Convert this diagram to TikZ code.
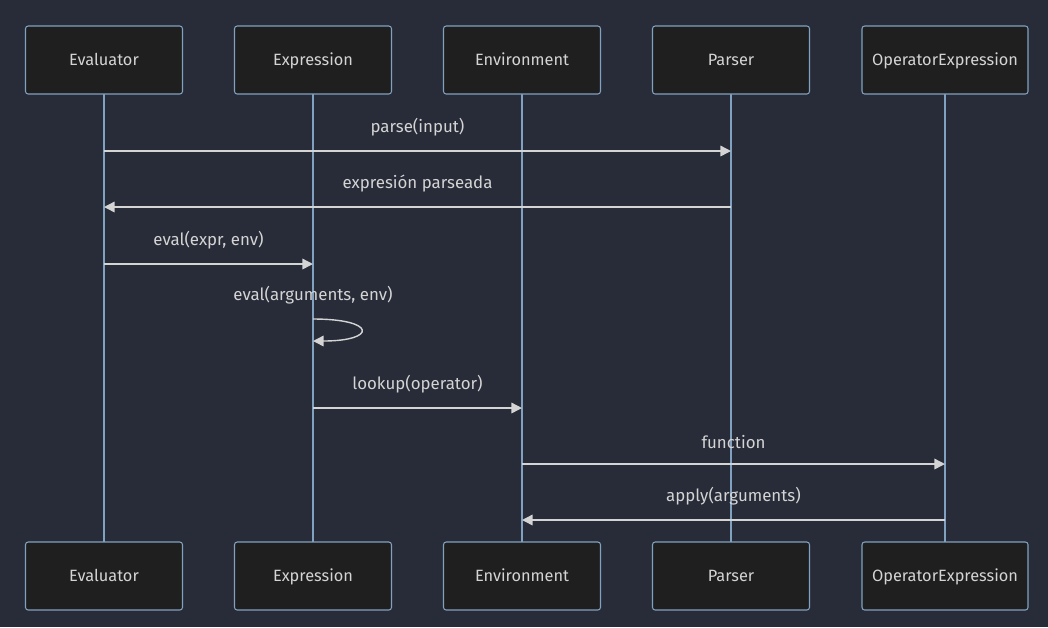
\documentclass[tikz,border=0pt]{standalone}
\usepackage{fontspec}
\setmainfont{Fira Sans}
\usetikzlibrary{arrows.meta}
\definecolor{bgcol}{HTML}{282C38}
\definecolor{boxfill}{HTML}{1F1F1F}
\definecolor{boxline}{HTML}{81A1C1}
\definecolor{msgcol}{HTML}{D4D4D4}
\tikzset{
  actor/.style={draw=boxline, fill=boxfill, line width=0.6pt, rounded corners=1.5pt,
    minimum width=3.14cm, minimum height=1.36cm, text=msgcol,
    text height=1.6ex, text depth=0.45ex,
    font=\fontsize{9.3}{11}\selectfont},
  lifeline/.style={draw=boxline, line width=1.1pt},
  msg/.style={draw=msgcol, line width=0.8pt, arrows={-Triangle[length=6pt,width=6pt]}},
  msglabel/.style={text=msgcol, font=\fontsize{9.6}{11}\selectfont}
}
\begin{document}
\begin{tikzpicture}[x=0.02cm,y=-0.02cm]
\useasboundingbox[fill=bgcol] (0,0) rectangle (1048,627);

% actors and lifelines
\foreach \name/\pos/\txt in {evaluator/104/Evaluator,expression/313/Expression,environment/522/Environment,parser/731/Parser}
  {
  \draw[lifeline] (\pos,94) -- (\pos,542);
  \node[actor] (\name) at (\pos,60) {\txt};
  \node[actor] (\name-b) at (\pos,576) {\txt};
  }
\draw[lifeline] (945,94) -- (945,542);
\node[actor,minimum width=3.32cm] (opexpr) at (945,60) {OperatorExpression};
\node[actor,minimum width=3.32cm] (opexpr-b) at (945,576) {OperatorExpression};

% message heights
\coordinate (m1) at (0,151);
\coordinate (m2) at (0,207);
\coordinate (m3) at (0,264);
\coordinate (s1) at (0,319);
\coordinate (s2) at (0,341);
\coordinate (m5) at (0,408);
\coordinate (m6) at (0,464);
\coordinate (m7) at (0,520);

\draw[msg] (evaluator|-m1) -- (parser|-m1)
  node[msglabel,midway,above=5pt] {parse(input)};
\draw[msg] (parser|-m2) -- (evaluator|-m2)
  node[msglabel,midway,above=5pt] {expresión parseada};
\draw[msg] (evaluator|-m3) -- (expression|-m3)
  node[msglabel,midway,above=5pt] {eval(expr, env)};
\draw[msg] (expression|-s1) .. controls +(64,0) and +(64,0) .. (expression|-s2);
\node[msglabel,above=5pt] (selfmsg) at (expression|-s1) {eval(arguments, env)};
\draw[msg] (expression|-m5) -- (environment|-m5)
  node[msglabel,midway,above=5pt] {lookup(operator)};
\draw[msg] (environment|-m6) -- (opexpr|-m6)
  node[msglabel,midway,above=5pt] {function};
\draw[msg] (opexpr|-m7) -- (environment|-m7)
  node[msglabel,midway,above=5pt] {apply(arguments)};
\end{tikzpicture}
\end{document}
